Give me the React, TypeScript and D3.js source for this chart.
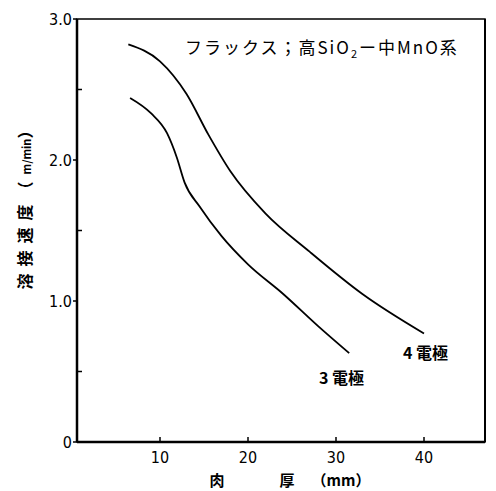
import React from "react";
import * as d3 from "d3";

const xTicks = [10, 20, 30, 40];
const yMajor = [0, 1.0, 2.0, 3.0];
const yMinor = [0.5, 1.5, 2.5];
const yTickLabels = ["0", "1.0", "2.0", "3.0"];

const series4x = [6.4, 10.0, 13.0, 15.5, 18.0, 22.0, 27.0, 33.0, 40.0];
const series4y = [2.82, 2.70, 2.47, 2.18, 1.92, 1.62, 1.35, 1.05, 0.77];
const series3x = [6.6, 9.0, 10.8, 11.9, 12.8, 14.5, 17.0, 20.0, 24.0, 28.0, 31.5];
const series3y = [2.44, 2.33, 2.19, 2.02, 1.84, 1.67, 1.46, 1.26, 1.05, 0.82, 0.63];

const title = "フラックス；高SiO";
const titleSub = "2";
const titleRest = "ー中MnO系";
const yLabelMain = "溶接速度（";
const yLabelUnit = "m/min";
const yLabelEnd = "）";
const label4 = "4 電極";
const label3 = "3 電極";

export default function App() {
  const W = 496, H = 491;
  const left = 77, right = 485, top = 19, bottom = 442;
  const x = d3.scaleLinear().domain([0, 10]).range([72, 160]);
  const y = d3.scaleLinear().domain([0, 3]).range([bottom, top]);
  const line = d3.line<[number, number]>().x(d => x(d[0])).y(d => y(d[1])).curve(d3.curveMonotoneX);
  const d4 = line(series4x.map((v, i) => [v, series4y[i]] as [number, number]))!;
  const d3p = line(series3x.map((v, i) => [v, series3y[i]] as [number, number]))!;
  const numFont = "'DejaVu Sans Condensed', 'Liberation Sans Narrow', sans-serif";
  const cjk = "'Noto Sans CJK JP', sans-serif";
  return (
    <svg width={W} height={H} style={{ position: "absolute", left: 0, top: 0, background: "#fff" }}>
      <rect x={0} y={0} width={W} height={H} fill="#fff" />
      <rect x={left} y={top} width={right - left} height={bottom - top} fill="none" stroke="#000" strokeWidth={1.5} />
      <line x1={left} y1={top} x2={left} y2={bottom} stroke="#000" strokeWidth={2.5} />
      <line x1={left} y1={bottom} x2={right} y2={bottom} stroke="#000" strokeWidth={2.5} />
      <line x1={right} y1={top} x2={right} y2={bottom} stroke="#000" strokeWidth={2} />
      {xTicks.map(t => (
        <g key={"xt" + t}>
          <line x1={x(t)} x2={x(t)} y1={bottom} y2={bottom - 5} stroke="#000" strokeWidth={1.5} />
          <text x={x(t)} y={463} textAnchor="middle" fontFamily={numFont} fontSize={16} fill="#000">{t}</text>
        </g>
      ))}
      {yMajor.map((t, i) => (
        <g key={"ym" + t}>
          <line x1={left} x2={left - 4} y1={y(t)} y2={y(t)} stroke="#000" strokeWidth={1.5} />
          <text x={left - 5} y={y(t) + 6} textAnchor="end" fontFamily={numFont} fontSize={16} fill="#000">{yTickLabels[i]}</text>
        </g>
      ))}
      {yMinor.map(t => (
        <line key={"yn" + t} x1={left} x2={left + 5} y1={y(t)} y2={y(t)} stroke="#000" strokeWidth={1.5} />
      ))}
      <path d={d4} fill="none" stroke="#000" strokeWidth={1.8} />
      <path d={d3p} fill="none" stroke="#000" strokeWidth={1.8} />
      <text x={185} y={54} fontFamily={cjk} fontSize={17} letterSpacing={2} fill="#000">
        {title}<tspan fontSize={11} dy={4}>{titleSub}</tspan><tspan dy={-4}>{titleRest}</tspan>
      </text>
      <text x={403} y={359} fontFamily={cjk} fontSize={16} fontWeight="bold" fill="#000">{label4}</text>
      <text x={319} y={384} fontFamily={cjk} fontSize={16} fontWeight="bold" fill="#000">{label3}</text>
      <text transform="translate(31,206) rotate(-90)" textAnchor="middle" fontFamily={cjk} fontSize={16} fontWeight="bold" fill="#000">
        <tspan letterSpacing={7}>{yLabelMain}</tspan>
        <tspan fontSize={11} letterSpacing={0}>{yLabelUnit}</tspan>
        <tspan letterSpacing={0}>{yLabelEnd}</tspan>
      </text>
      <text x={217} y={486} textAnchor="middle" fontFamily={cjk} fontSize={15} fontWeight="bold" fill="#000">肉</text>
      <text x={287} y={486} textAnchor="middle" fontFamily={cjk} fontSize={15} fontWeight="bold" fill="#000">厚</text>
      <text x={341} y={486} textAnchor="middle" fontFamily={cjk} fontSize={15} fontWeight="bold" fill="#000">（mm）</text>
    </svg>
  );
}
